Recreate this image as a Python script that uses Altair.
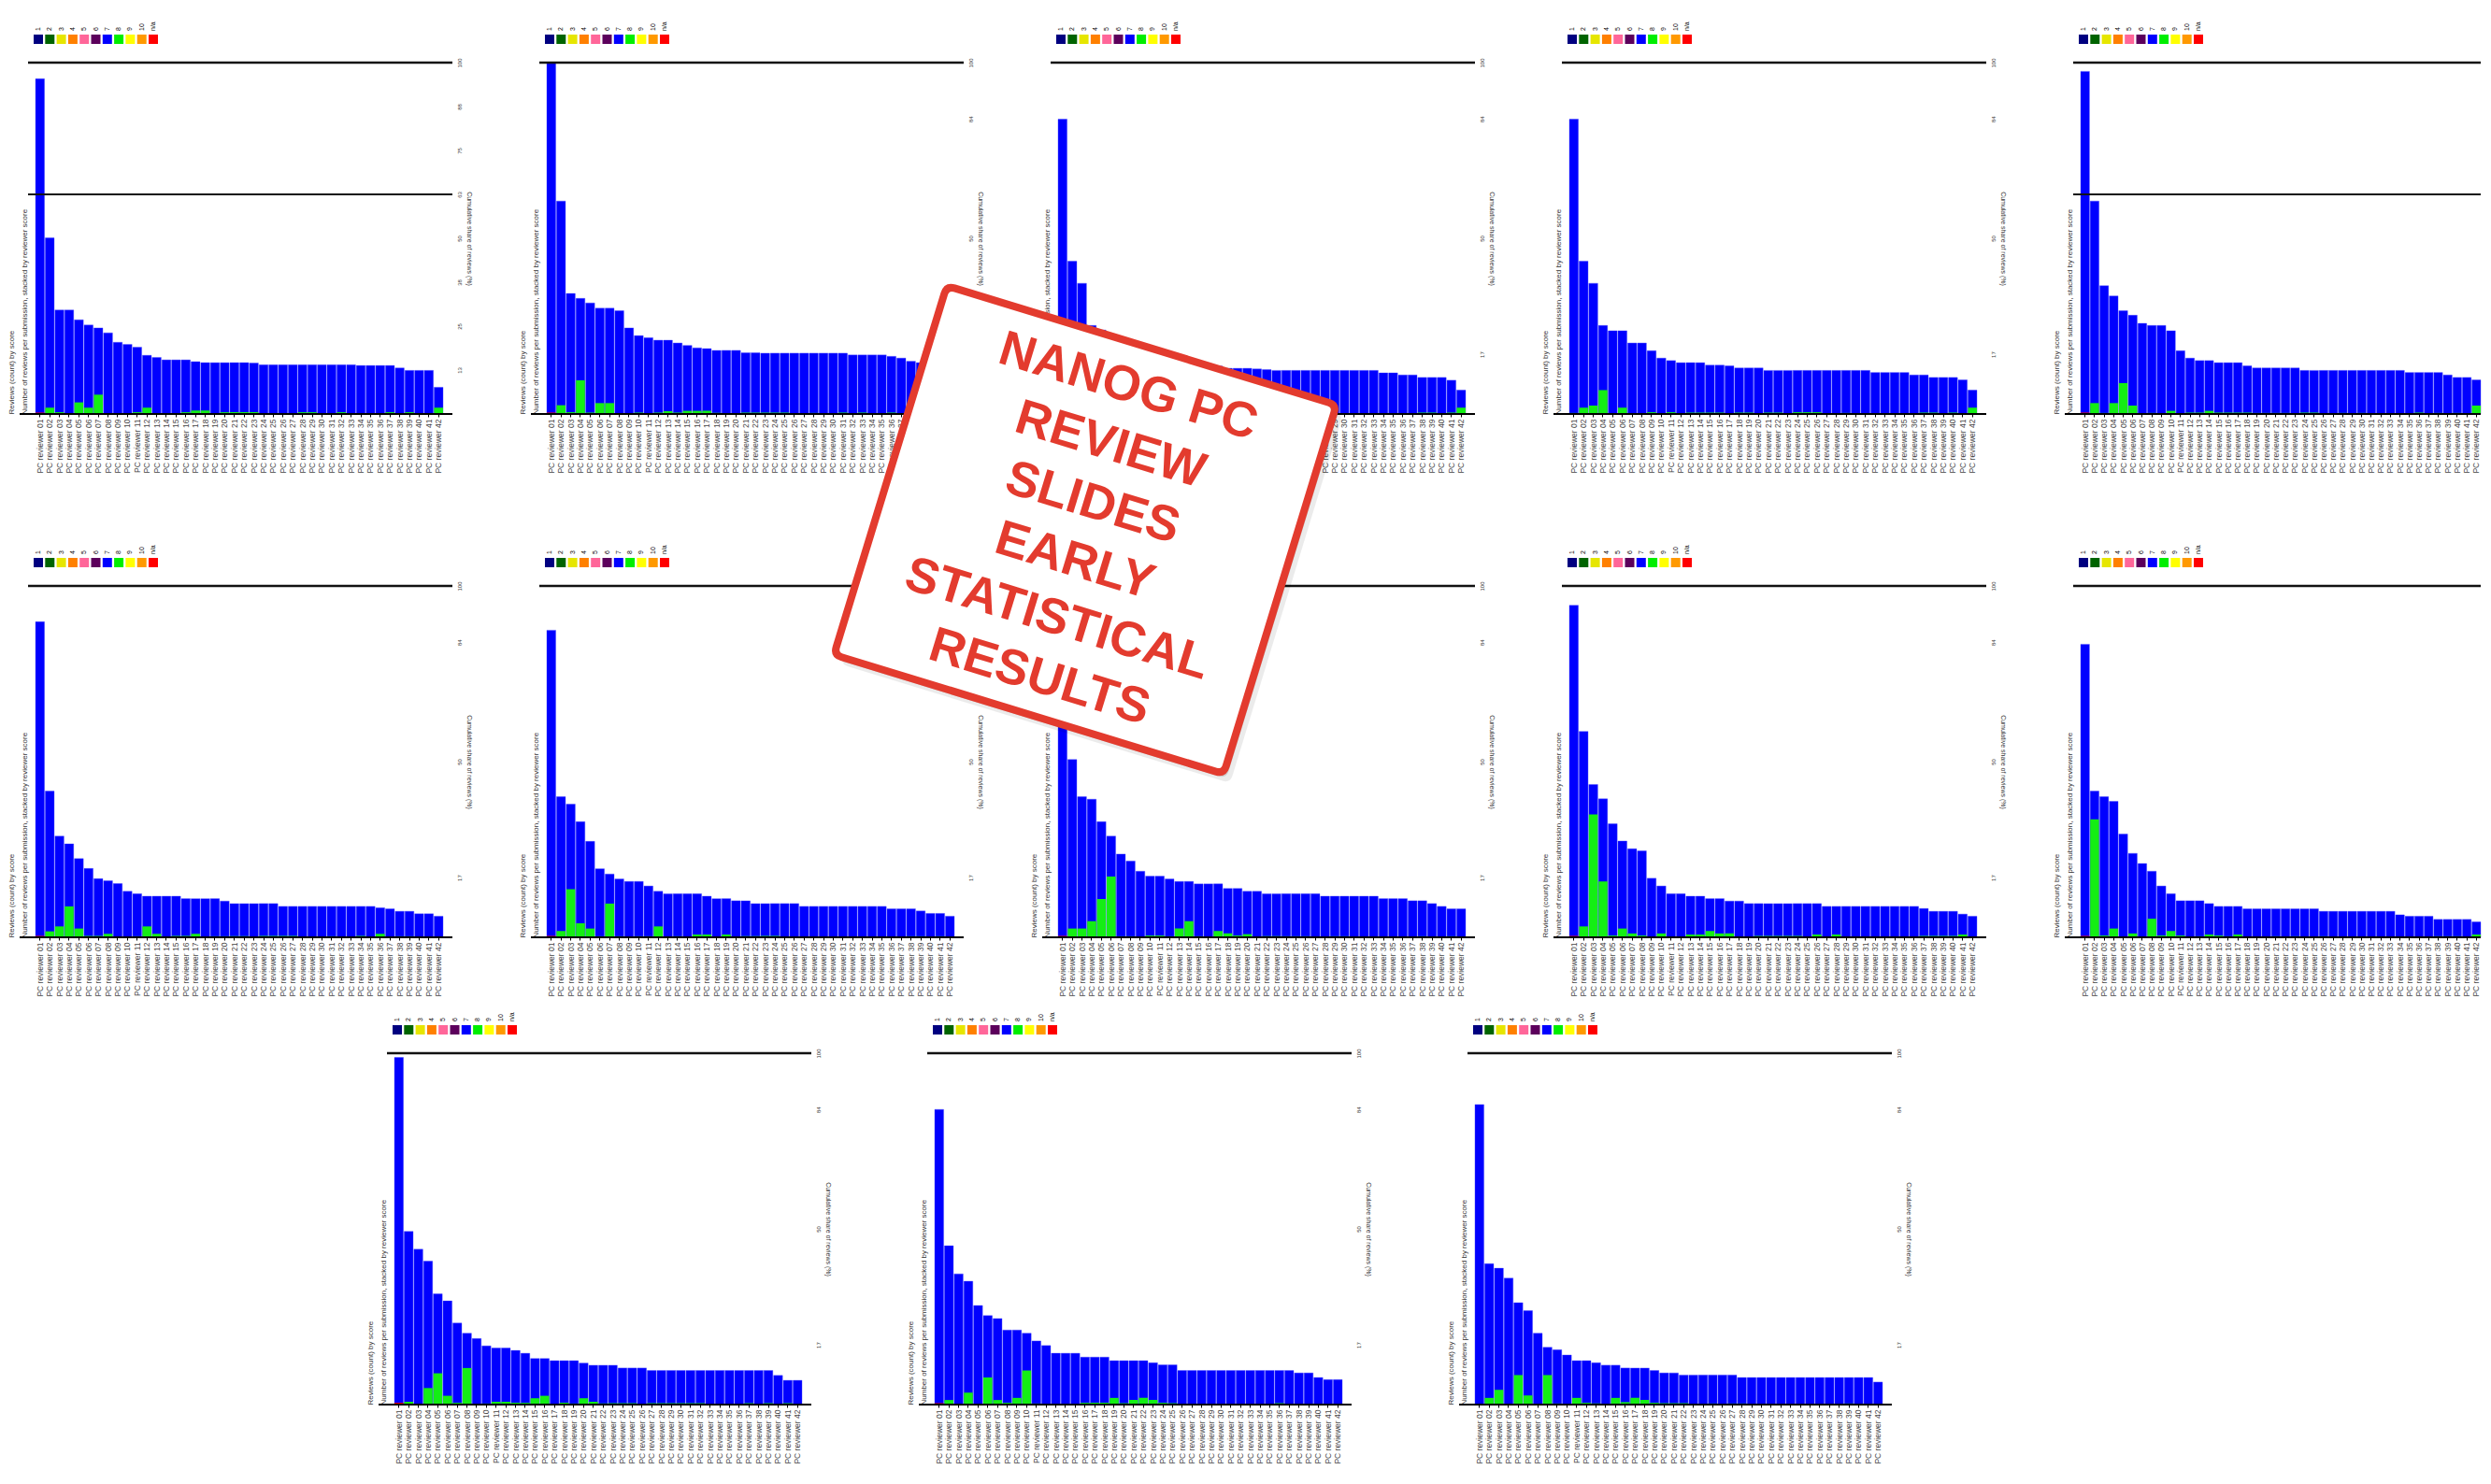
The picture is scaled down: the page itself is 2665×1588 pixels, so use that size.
import altair as alt
import pandas as pd

# ---------------- data ----------------
LABELS = ["PC reviewer 01", "PC reviewer 02", "PC reviewer 03", "PC reviewer 04", "PC reviewer 05",
          "PC reviewer 06", "PC reviewer 07", "PC reviewer 08", "PC reviewer 09", "PC reviewer 10",
          "PC reviewer 11", "PC reviewer 12", "PC reviewer 13", "PC reviewer 14", "PC reviewer 15",
          "PC reviewer 16", "PC reviewer 17", "PC reviewer 18", "PC reviewer 19", "PC reviewer 20",
          "PC reviewer 21", "PC reviewer 22", "PC reviewer 23", "PC reviewer 24", "PC reviewer 25",
          "PC reviewer 26", "PC reviewer 27", "PC reviewer 28", "PC reviewer 29", "PC reviewer 30",
          "PC reviewer 31", "PC reviewer 32", "PC reviewer 33", "PC reviewer 34", "PC reviewer 35",
          "PC reviewer 36", "PC reviewer 37", "PC reviewer 38", "PC reviewer 39", "PC reviewer 40",
          "PC reviewer 41", "PC reviewer 42"]

LEG_CATS = ["1", "2", "3", "4", "5", "6", "7", "8", "9", "10", "n/a"]
LEG_COLORS = ["#000080", "#006400", "#e6e600", "#ff8000", "#ff6699", "#5c005c",
              "#0000ff", "#00ee00", "#ffff00", "#ff9900", "#ff0000"]

STAMP_LINES = ["NANOG PC", "REVIEW", "SLIDES", "EARLY", "STATISTICAL", "RESULTS"]

# row 1
P1_TOTAL = [95.4, 50.1, 29.6, 29.6, 26.8, 25.3, 24.5, 23.1, 20.4, 19.8, 19.0, 16.7, 16.1, 15.4, 15.4, 15.4,
            14.9, 14.6, 14.6, 14.6, 14.6, 14.6, 14.5, 14.0, 14.0, 14.0, 14.0, 14.0, 14.0, 14.0, 14.0, 14.0,
            14.0, 13.8, 13.8, 13.8, 13.8, 13.1, 12.4, 12.4, 12.4, 7.6]
P1_GREEN = [0, 1.8, 0.5, 0, 3.3, 1.8, 5.5, 0, 0, 0, 0.5, 1.8, 0, 0, 0, 0.5, 1.0, 1.0, 0, 0.5, 0.5, 0.5,
            0.5, 0, 0, 0, 0, 0.5, 0.5, 0, 0, 0.5, 0, 0, 0, 0, 0.5, 0, 0.5, 0, 0, 1.8]
P2_TOTAL = [100, 60.6, 34.3, 32.9, 31.6, 30.1, 30.1, 29.4, 24.5, 22.3, 21.7, 21.0, 21.0, 20.2, 19.5, 18.8,
            18.6, 18.1, 18.1, 18.1, 17.4, 17.4, 17.3, 17.3, 17.3, 17.3, 17.3, 17.3, 17.3, 17.3, 17.3, 16.8,
            16.8, 16.8, 16.8, 16.4, 15.9, 15.0, 14.6, 14.2, 13.8, 10.5]
P2_GREEN = [0, 2.5, 0.5, 9.6, 0.4, 3.1, 3.1, 0, 0, 0.4, 0, 0.4, 0.8, 0.4, 0.9, 0.9, 0.9, 0.3, 0, 0, 0.4,
            0.4, 0.4, 0.4, 0.4, 0, 0, 0.3, 0, 0, 0.4, 0, 0.4, 0, 0, 0.4, 0, 0, 0, 0, 0, 0]
P3_TOTAL = [83.9, 43.5, 37.2, 25.2, 23.9, 22.5, 21.0, 19.5, 18.0, 17.0, 16.2, 15.5, 15.0, 14.6, 14.2, 13.9,
            13.6, 13.0, 13.0, 13.0, 12.8, 12.6, 12.4, 12.4, 12.4, 12.4, 12.4, 12.4, 12.4, 12.4, 12.4, 12.4,
            12.4, 11.7, 11.7, 11.1, 11.1, 10.4, 10.4, 10.4, 9.6, 6.8]
P3_GREEN = [0, 0.5, 0, 0, 0, 0, 0, 0, 0, 0, 0, 0, 0, 0, 0, 0, 0, 0, 0, 0, 0, 0, 0, 0, 0, 0, 0, 0, 0, 0,
            0, 0, 0, 0, 0, 0, 0, 0.4, 0.4, 0, 0.4, 1.8]
P4_TOTAL = [83.9, 43.5, 37.2, 25.2, 23.7, 23.7, 20.2, 20.2, 18.0, 15.9, 15.2, 14.6, 14.6, 14.6, 13.9, 13.9,
            13.7, 13.1, 13.1, 13.1, 12.4, 12.4, 12.4, 12.4, 12.4, 12.4, 12.4, 12.4, 12.4, 12.4, 12.4, 11.8,
            11.8, 11.8, 11.8, 11.1, 11.1, 10.4, 10.4, 10.4, 9.7, 6.8]
P4_GREEN = [0.3, 1.8, 2.4, 6.8, 0, 1.8, 0, 0, 0.5, 0, 0.5, 0, 0.4, 0.4, 0.4, 0.4, 0, 0.4, 0.4, 0, 0.4,
            0.4, 0, 0.5, 0.5, 0.5, 0, 0, 0.3, 0, 0, 0, 0, 0, 0, 0, 0.4, 0.4, 0, 0.4, 0, 1.8]
P5_TOTAL = [97.5, 60.6, 36.5, 33.6, 29.4, 28.1, 25.8, 25.2, 25.2, 23.7, 18.0, 15.9, 15.2, 15.2, 14.6, 14.6,
            14.6, 13.7, 13.1, 13.1, 13.1, 13.1, 13.1, 12.4, 12.4, 12.4, 12.4, 12.4, 12.4, 12.4, 12.4, 12.4,
            12.4, 12.4, 11.8, 11.8, 11.8, 11.8, 11.1, 10.4, 10.4, 9.7]
P5_GREEN = [0, 3.1, 0.3, 3.1, 8.8, 2.4, 0, 0.3, 0, 0.9, 0, 0.4, 0.4, 0.9, 0.4, 0.4, 0.4, 0.4, 0.3, 0.3,
            0.3, 0.3, 0, 0.4, 0.4, 0, 0, 0.3, 0, 0.3, 0, 0, 0, 0, 0, 0.4, 0, 0.3, 0, 0.3, 0, 2.4]
# row 2
P6_TOTAL = [89.8, 41.6, 28.8, 26.6, 22.4, 19.6, 16.7, 16.1, 15.3, 13.1, 12.4, 11.7, 11.7, 11.7, 11.7, 11.0,
            11.0, 11.0, 11.0, 10.3, 9.6, 9.6, 9.6, 9.6, 9.6, 8.8, 8.8, 8.8, 8.8, 8.8, 8.8, 8.8, 8.8, 8.8,
            8.8, 8.4, 8.1, 7.4, 7.4, 6.7, 6.7, 6.0]
P6_GREEN = [0, 1.7, 3.1, 8.8, 2.5, 0.4, 0.4, 1.0, 0, 0, 0.3, 3.1, 1.0, 0, 0.4, 0.4, 1.0, 0, 0.3, 0.3,
            0.3, 0.3, 0, 0.4, 0.4, 0.4, 0.4, 0, 0, 0, 0.3, 0, 0, 0.4, 0, 1.0, 0, 0.3, 0.3, 0, 0, 0]
P7_TOTAL = [87.4, 40.0, 37.9, 32.9, 27.3, 19.5, 18.0, 16.6, 15.9, 15.9, 14.6, 13.1, 12.4, 12.4, 12.4, 12.4,
            11.7, 11.0, 11.0, 10.4, 10.4, 9.6, 9.6, 9.6, 9.6, 9.6, 8.8, 8.8, 8.8, 8.8, 8.8, 8.8, 8.8, 8.8,
            8.8, 8.1, 8.1, 8.1, 7.5, 6.8, 6.8, 6.0]
P7_GREEN = [0, 1.8, 13.7, 4.0, 2.5, 0.3, 9.6, 0.3, 0, 0.3, 0.3, 3.1, 0, 0.3, 0, 0.8, 0.8, 0, 0.8, 0,
            0.3, 0.3, 0.4, 0.4, 0, 0, 0, 0, 0, 0, 0, 0, 0, 0, 0, 0, 0, 0.3, 0.3, 0, 0.3, 0]
P8_TOTAL = [86.0, 50.6, 40.0, 39.3, 32.9, 28.8, 23.7, 21.7, 18.8, 17.4, 17.4, 16.6, 15.9, 15.9, 15.2, 15.2,
            15.2, 13.9, 13.9, 13.1, 13.1, 12.4, 12.4, 12.4, 12.4, 12.4, 12.4, 11.7, 11.7, 11.7, 11.7, 11.7,
            11.7, 11.0, 11.0, 11.0, 10.4, 10.4, 9.6, 8.8, 8.1, 8.1]
P8_GREEN = [0, 2.5, 2.5, 4.6, 10.9, 17.3, 0.3, 0.3, 0, 0.5, 0.5, 0.3, 2.5, 4.6, 0.3, 0, 1.8, 1.1, 0.5,
            0.9, 0, 0.3, 0.3, 0.3, 0.3, 0.3, 0, 0, 0.3, 0.3, 0, 0, 0, 0, 0, 0, 0, 0.3, 0, 0, 0.3, 0]
P9_TOTAL = [94.5, 58.6, 43.5, 39.4, 32.3, 27.4, 25.2, 24.6, 16.8, 14.6, 12.4, 12.4, 11.7, 11.7, 11.0, 11.0,
            10.3, 10.3, 9.6, 9.6, 9.6, 9.6, 9.6, 9.6, 9.6, 9.6, 8.8, 8.8, 8.8, 8.8, 8.8, 8.8, 8.8, 8.8,
            8.8, 8.8, 8.2, 7.4, 7.4, 7.4, 6.6, 6.0]
P9_GREEN = [0, 3.1, 35.0, 15.9, 0.5, 2.5, 1.1, 0.5, 0, 1.1, 0, 0, 0.8, 0.8, 1.8, 1.1, 1.1, 0, 0, 0.4,
            0.4, 0.4, 0.4, 0.4, 0, 0.8, 0, 0.8, 0, 0, 0, 0, 0, 0, 0, 0, 0.4, 0.4, 0.4, 0.4, 0.8, 0]
P10_TOTAL = [83.4, 41.6, 40.0, 38.7, 29.4, 23.9, 21.0, 18.8, 14.6, 12.4, 10.4, 10.4, 10.4, 9.6, 8.8, 8.8,
             8.8, 8.1, 8.1, 8.1, 8.1, 8.1, 8.1, 8.1, 8.1, 7.4, 7.4, 7.4, 7.4, 7.4, 7.4, 7.4, 7.4, 6.4,
             6.0, 6.0, 6.0, 5.1, 5.1, 5.1, 5.1, 4.4]
P10_GREEN = [0, 33.6, 0.5, 2.5, 0, 1.1, 0, 5.3, 0.5, 1.8, 0.5, 0, 0.3, 0.8, 0.5, 0.3, 0.8, 0, 0, 0,
             0.3, 0, 0.3, 0, 0, 0.3, 0, 0, 0, 0, 0, 0, 0, 0, 0, 0, 0, 0.3, 0.3, 0.3, 0, 0.8]
# row 3
P11_TOTAL = [98.8, 49.3, 44.2, 40.8, 31.5, 29.5, 23.2, 20.3, 18.8, 16.7, 16.1, 16.1, 15.4, 14.6, 13.1,
             13.1, 12.5, 12.5, 12.5, 11.8, 11.2, 11.2, 11.2, 10.4, 10.4, 10.4, 9.7, 9.7, 9.7, 9.7, 9.7,
             9.7, 9.7, 9.7, 9.7, 9.7, 9.7, 9.7, 9.7, 8.3, 6.9, 6.9]
P11_GREEN = [0, 0.8, 0, 4.7, 8.9, 2.5, 0.5, 10.4, 0, 0.3, 0.8, 0.8, 0.5, 0.5, 1.8, 2.5, 0, 0.5, 0.3, 1.8,
             0.8, 0.3, 0.4, 0.4, 0.4, 0, 0.4, 0.4, 0.4, 0.4, 0.4, 0.4, 0, 0, 0, 0, 0.4, 0, 0.4, 0, 0.4, 0]
P12_TOTAL = [84.0, 45.2, 37.2, 35.1, 28.2, 25.3, 24.5, 21.2, 21.2, 20.3, 18.1, 16.8, 14.6, 14.6, 14.6,
             13.5, 13.5, 13.5, 12.5, 12.5, 12.5, 12.5, 11.9, 11.3, 11.3, 9.7, 9.7, 9.7, 9.7, 9.7, 9.7, 9.7,
             9.7, 9.7, 9.7, 9.7, 9.7, 9.0, 9.0, 7.7, 7.1, 7.1]
P12_GREEN = [0, 1.3, 0, 3.4, 0, 7.7, 1.3, 0.5, 1.9, 9.7, 0.3, 0, 0, 0, 0, 0.5, 0.5, 0.5, 1.9, 0.4, 1.3,
             1.9, 1.3, 0.5, 0.4, 0, 0, 0, 0, 0, 0, 0, 0, 0, 0, 0.4, 0, 0, 0, 0, 0, 0]
P13_TOTAL = [85.4, 40.1, 38.8, 36.0, 29.0, 26.7, 20.3, 16.3, 15.6, 14.1, 12.5, 12.5, 11.9, 11.2, 11.2,
             10.4, 10.4, 10.4, 9.7, 9.0, 9.0, 8.4, 8.4, 8.4, 8.4, 8.4, 8.4, 7.7, 7.7, 7.7, 7.7, 7.7, 7.7,
             7.7, 7.7, 7.7, 7.7, 7.7, 7.7, 7.7, 7.7, 6.4]
P13_GREEN = [0, 1.9, 4.2, 0, 8.4, 2.6, 0, 8.4, 0.3, 0, 1.9, 0.5, 0.3, 0, 1.9, 0.7, 1.9, 1.3, 0.5, 0.4,
             0.4, 0.4, 0, 0, 0.3, 0, 0.3, 0.3, 0, 0, 0, 0, 0, 0, 0, 0, 0, 0, 0.3, 0, 0, 0]

# small red sliver at the base of the first bar, per panel
FIRST_RED = [0.4, 0.4, 0.0, 0.0, 0.4, 0.4, 0.4, 0.4, 0.4, 0.4, 0.5, 0.4, 0.0]
THRESHOLD_ROW1 = 62.5

RIGHT_TICKS_THR = [12.5, 25, 37.5, 50, 62.5, 75, 87.5, 100]
RIGHT_TICKS = [17, 50, 84, 100]

# ---------------- styling ----------------
W, H = 454, 376
BLUE = "#0000ff"
GREEN = "#14ee14"
RED = "#ff0000"
STAMP_RED = "#e33b2e"
FONT = "Liberation Sans"

BOX_PATH = ("M -0.96 -0.947 L 0.96 -0.947 Q 1 -0.947 1 -0.907 L 1 0.907 Q 1 0.947 0.96 0.947 "
            "L -0.96 0.947 Q -1 0.947 -1 0.907 L -1 -0.907 Q -1 -0.947 -0.96 -0.947 Z")


def make_panel(total, green, red1, thr=None, width=W, right=True, bar_end=None, stamp=None):
    if bar_end is None:
        bar_end = width - 10
    df = pd.DataFrame({"label": LABELS, "total": total, "green": green,
                       "red": [red1] + [0.0] * (len(LABELS) - 1)})
    xscale = alt.Scale(range=[8, bar_end], paddingInner=0.08, paddingOuter=0)
    x_ax = alt.X("label:N", sort=LABELS, title=None, scale=xscale,
                 axis=alt.Axis(orient="bottom", labelAngle=270, labelAlign="right",
                               labelBaseline="middle", labelFontSize=8.5, labelColor="#444",
                               labelPadding=2, tickSize=3, tickColor="#000", tickWidth=1,
                               domain=False, labelOverlap=False, labelLimit=66, grid=False))
    x_no = alt.X("label:N", sort=LABELS, title=None, scale=xscale, axis=None)
    ysc = alt.Scale(domain=[0, 100])
    left_axis = alt.Axis(orient="left", labels=False, ticks=False, domain=False, grid=False,
                         title=["Reviews (count) by score",
                                "Number of reviews per submission, stacked by reviewer score"],
                         titleFontSize=8, titleFontWeight="normal", titleColor="#333",
                         titleAnchor="start", titlePadding=0, titleLineHeight=14)
    base = alt.Chart(df)
    blue = base.mark_bar(color=BLUE, stroke="#4646ff", strokeWidth=0.4).encode(
        x=x_ax, y=alt.Y("total:Q", scale=ysc, axis=left_axis))
    grn = base.mark_bar(color=GREEN).encode(x=x_no, y=alt.Y("green:Q", scale=ysc, axis=None))
    red = base.mark_bar(color=RED).encode(x=x_no, y=alt.Y("red:Q", scale=ysc, axis=None))

    one = pd.DataFrame({"v": [100]})
    if right:
        r_axis = alt.Axis(orient="right", values=RIGHT_TICKS_THR if thr else RIGHT_TICKS,
                          labelFontSize=6, labelAngle=270, labelColor="#333", ticks=False,
                          domain=False, grid=False, labelPadding=4,
                          title="Cumulative share of reviews (%)", titleFontSize=7,
                          titleFontWeight="normal", titleColor="#333", titlePadding=4)
    else:
        r_axis = None
    top_rule = alt.Chart(one).mark_rule(color="#111", strokeWidth=2.6).encode(
        y=alt.Y("v:Q", scale=ysc, axis=r_axis), x=alt.value(0), x2=alt.value(width))
    base_rule = alt.Chart(one).mark_rule(color="#000", strokeWidth=2).encode(
        x=alt.value(-9), x2=alt.value(width), y=alt.value(H))

    leg_df = pd.DataFrame({"cat": LEG_CATS})
    lx = alt.X("cat:N", sort=LEG_CATS, scale=alt.Scale(type="point", range=[11, 134], padding=0),
               axis=None)
    leg_sq = alt.Chart(leg_df).mark_square(size=100, opacity=1, strokeWidth=0).encode(
        x=lx, y=alt.value(-25),
        color=alt.Color("cat:N", scale=alt.Scale(domain=LEG_CATS, range=LEG_COLORS), legend=None))
    leg_tx = alt.Chart(leg_df).mark_text(angle=270, align="left", baseline="middle", fontSize=7,
                                         color="#000").encode(x=lx, y=alt.value(-34), text="cat:N")

    layers = [blue, grn, red, base_rule, top_rule]
    if thr:
        layers.append(alt.Chart(pd.DataFrame({"v": [thr]})).mark_rule(color="#111", strokeWidth=2).encode(
            y=alt.Y("v:Q", scale=ysc, axis=None), x=alt.value(0), x2=alt.value(width)))
    layers += [leg_sq, leg_tx]

    if stamp is not None:
        # stamp centre and first text line position, relative to this panel's plot origin
        (cx, cy), (tx, ty) = stamp
        sdf = pd.DataFrame({"s": [0]})
        sh1 = alt.Chart(sdf).mark_point(shape=BOX_PATH, size=190096, angle=17, filled=True,
                                        color="#000", opacity=0.08, strokeWidth=0).encode(
            x=alt.value(cx + 7), y=alt.value(cy + 10))
        sh2 = alt.Chart(sdf).mark_point(shape=BOX_PATH, size=190096, angle=17, filled=True,
                                        color="#000", opacity=0.12, strokeWidth=0).encode(
            x=alt.value(cx + 3), y=alt.value(cy + 5))
        box = alt.Chart(sdf).mark_point(shape=BOX_PATH, size=190096, angle=17, filled=True,
                                        fill="#ffffff", fillOpacity=1, opacity=1,
                                        stroke=STAMP_RED, strokeWidth=8).encode(
            x=alt.value(cx), y=alt.value(cy))
        txt = alt.Chart(sdf).mark_text(text=STAMP_LINES, font=FONT, fontWeight="bold", fontSize=53,
                                       lineHeight=65, color=STAMP_RED, angle=17, align="center",
                                       baseline="middle").encode(
            x=alt.value(tx), y=alt.value(ty))
        layers += [sh1, sh2, box, txt]

    return alt.layer(*layers).resolve_scale(x="independent", y="independent",
                                            color="independent").properties(width=width, height=H)


# stamp placed inside the last panel of row 2 (plot origin at page ~(2217, 627))
STAMP_POS = ((1160 - 2217, 567 - 627), (1206 - 2217, 414 - 627))

p1 = make_panel(P1_TOTAL, P1_GREEN, FIRST_RED[0], thr=THRESHOLD_ROW1)
p2 = make_panel(P2_TOTAL, P2_GREEN, FIRST_RED[1])
p3 = make_panel(P3_TOTAL, P3_GREEN, FIRST_RED[2])
p4 = make_panel(P4_TOTAL, P4_GREEN, FIRST_RED[3])
p5 = make_panel(P5_TOTAL, P5_GREEN, FIRST_RED[4], thr=THRESHOLD_ROW1, width=436, right=False,
                bar_end=436)
p6 = make_panel(P6_TOTAL, P6_GREEN, FIRST_RED[5])
p7 = make_panel(P7_TOTAL, P7_GREEN, FIRST_RED[6])
p8 = make_panel(P8_TOTAL, P8_GREEN, FIRST_RED[7])
p9 = make_panel(P9_TOTAL, P9_GREEN, FIRST_RED[8])
p10 = make_panel(P10_TOTAL, P10_GREEN, FIRST_RED[9], width=436, right=False, bar_end=436,
                 stamp=STAMP_POS)
p11 = make_panel(P11_TOTAL, P11_GREEN, FIRST_RED[10])
p12 = make_panel(P12_TOTAL, P12_GREEN, FIRST_RED[11])
p13 = make_panel(P13_TOTAL, P13_GREEN, FIRST_RED[12])

spacer = alt.Chart(pd.DataFrame({"z": [0]})).mark_point(opacity=0).encode(
    x=alt.value(0), y=alt.value(0)).properties(width=260, height=H)

grid12 = alt.concat(p1, p2, p3, p4, p5, p6, p7, p8, p9, p10, columns=5,
                    spacing={"row": 184, "column": 93}, bounds="flush")
row3 = alt.hconcat(spacer, p11, p12, p13, spacing=124, bounds="flush")

chart = alt.vconcat(grid12, row3, spacing=16).properties(
    padding={"left": 0, "top": 15, "right": 0, "bottom": 0}
).configure(font=FONT, view=alt.ViewConfig(strokeWidth=0))

chart.save("out.html", embed_options={"renderer": "svg", "actions": False})
